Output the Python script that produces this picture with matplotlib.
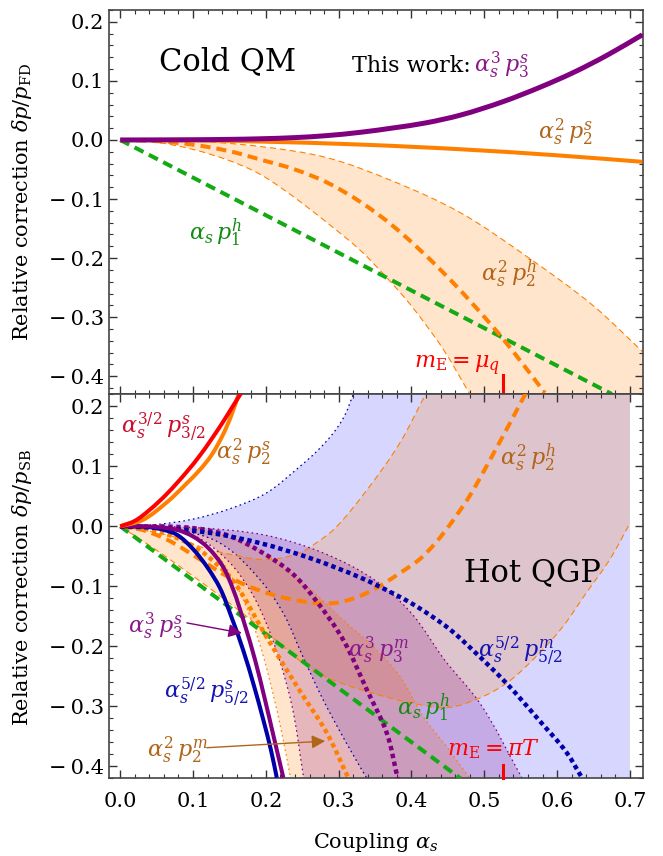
import numpy as np
import matplotlib
matplotlib.use("Agg")
import matplotlib.pyplot as plt
from matplotlib.ticker import MultipleLocator, FuncFormatter
from matplotlib.path import Path
from matplotlib.patches import PathPatch

plt.rcParams['font.family'] = ['DejaVu Serif']
plt.rcParams['mathtext.fontset'] = 'dejavuserif'

# ---------------- data: top panel (Cold QM) ----------------
top_p3s_a = [0, 0.1, 0.15, 0.192, 0.24, 0.284, 0.33, 0.375, 0.42, 0.467, 0.526, 0.576, 0.622, 0.668, 0.717]
top_p3s_y = [0, 0.0004, 0.001, 0.002, 0.004, 0.0074, 0.013, 0.0204, 0.029, 0.042, 0.065, 0.089, 0.114, 0.143, 0.178]

top_p2s_a = [0, 0.1, 0.192, 0.33, 0.467, 0.6, 0.717]
top_p2s_y = [0, -0.0007, -0.0027, -0.0078, -0.0157, -0.026, -0.037]

top_p1h_a = [0, 0.675]
top_p1h_y = [0, -0.43]

top_p2h_a = [0, 0.05, 0.1, 0.15, 0.192, 0.24, 0.284, 0.33, 0.375, 0.444, 0.513, 0.544, 0.583]
top_p2h_y = [0, -0.002, -0.008, -0.019, -0.033, -0.05, -0.072, -0.105, -0.146, -0.225, -0.318, -0.365, -0.428]

top_p2h_up_a = [0, 0.1, 0.192, 0.284, 0.375, 0.467, 0.558, 0.65, 0.717]
top_p2h_up_y = [0, -0.002, -0.011, -0.030, -0.070, -0.123, -0.197, -0.281, -0.358]

top_p2h_lo_a = [0, 0.05, 0.1, 0.15, 0.192, 0.24, 0.284, 0.329, 0.366, 0.398, 0.421, 0.444, 0.48]
top_p2h_lo_y = [0, -0.004, -0.016, -0.035, -0.058, -0.098, -0.140, -0.186, -0.233, -0.278, -0.315, -0.355, -0.43]

# ---------------- data: bottom panel (Hot QGP) ----------------
bot_p32s_a = [0, 0.02, 0.041, 0.064, 0.0915, 0.110, 0.138, 0.152, 0.166]
bot_p32s_y = [0, 0.009, 0.028, 0.054, 0.091, 0.119, 0.168, 0.195, 0.222]

bot_p2s_a = [0, 0.03, 0.064, 0.09, 0.110, 0.125, 0.14, 0.152, 0.162]
bot_p2s_y = [0, 0.010, 0.040, 0.070, 0.095, 0.118, 0.150, 0.183, 0.218]

bot_p52s_a = [0, 0.02, 0.04, 0.06, 0.0778, 0.10, 0.12, 0.137, 0.153, 0.169, 0.183, 0.197, 0.207, 0.215]
bot_p52s_y = [0, -0.0002, -0.0015, -0.006, -0.014, -0.038, -0.069, -0.103, -0.152, -0.207, -0.263, -0.325, -0.373, -0.419]

bot_p3s_a = [0, 0.04, 0.078, 0.10, 0.12, 0.14, 0.155, 0.17, 0.185, 0.198, 0.211, 0.224]
bot_p3s_y = [0, -0.0005, -0.006, -0.017, -0.035, -0.065, -0.105, -0.16, -0.222, -0.285, -0.352, -0.419]

bot_p1h_a = [0, 0.467]
bot_p1h_y = [0, -0.42]

bot_p2h_a = [0, 0.03, 0.064, 0.11, 0.1465, 0.201, 0.27, 0.30, 0.339, 0.384, 0.4157, 0.4737, 0.503, 0.557]
bot_p2h_y = [0, -0.006, -0.022, -0.0555, -0.083, -0.111, -0.128, -0.127, -0.111, -0.078, -0.05, 0.039, 0.10, 0.222]
bot_p2h_up_a = [0, 0.07, 0.12, 0.165, 0.192, 0.22, 0.247, 0.27, 0.293, 0.339, 0.384, 0.42]
bot_p2h_up_y = [0, -0.016, -0.038, -0.050, -0.0555, -0.053, -0.044, -0.027, -0.0055, 0.061, 0.139, 0.222]
bot_p2h_lo_a = [0, 0.05, 0.1, 0.15, 0.2, 0.265, 0.30, 0.352, 0.398, 0.45, 0.494, 0.531, 0.572, 0.608, 0.640, 0.672, 0.70]
bot_p2h_lo_y = [0, -0.04, -0.083, -0.128, -0.176, -0.240, -0.260, -0.280, -0.294, -0.302, -0.286, -0.261, -0.216, -0.167, -0.111, -0.056, 0.005]

bot_p52m_a = [0, 0.055, 0.1235, 0.192, 0.2607, 0.329, 0.357, 0.398, 0.4254, 0.453, 0.4847, 0.5307, 0.5765, 0.613, 0.634]
bot_p52m_y = [0, -0.003, -0.011, -0.028, -0.053, -0.085, -0.101, -0.127, -0.148, -0.172, -0.207, -0.262, -0.325, -0.377, -0.419]
bot_p52m_up_a = [0, 0.05, 0.1, 0.15, 0.2, 0.247, 0.27, 0.293, 0.308, 0.32]
bot_p52m_up_y = [0, 0.003, 0.012, 0.029, 0.055, 0.10, 0.125, 0.156, 0.184, 0.22]
bot_p52m_lo_a = [0, 0.08, 0.137, 0.192, 0.224, 0.25, 0.279, 0.31, 0.3386]
bot_p52m_lo_y = [0, -0.006, -0.028, -0.089, -0.145, -0.215, -0.29, -0.36, -0.42]

bot_p2m_a = [0, 0.05, 0.1007, 0.137, 0.1555, 0.2012, 0.247, 0.2836, 0.3134]
bot_p2m_y = [0, -0.008, -0.033, -0.068, -0.092, -0.185, -0.275, -0.344, -0.42]
bot_p2m_r_a = [0, 0.1, 0.146, 0.1967, 0.261, 0.306, 0.352, 0.384, 0.416, 0.45, 0.48]
bot_p2m_r_y = [0, -0.004, -0.017, -0.044, -0.105, -0.156, -0.206, -0.25, -0.317, -0.37, -0.42]
bot_p2m_l_a = [0, 0.08, 0.13, 0.16, 0.18, 0.195, 0.21, 0.222, 0.234]
bot_p2m_l_y = [0, -0.008, -0.045, -0.10, -0.155, -0.21, -0.28, -0.345, -0.42]

bot_p3m_a = [0, 0.1, 0.146, 0.192, 0.238, 0.270, 0.306, 0.3386, 0.366, 0.381]
bot_p3m_y = [0, -0.003, -0.0144, -0.0416, -0.0805, -0.1255, -0.1888, -0.2722, -0.3444, -0.42]
bot_p3m_r_a = [0, 0.1, 0.2, 0.28, 0.35, 0.40, 0.445, 0.494, 0.552]
bot_p3m_r_y = [0, -0.002, -0.015, -0.045, -0.09, -0.145, -0.222, -0.295, -0.42]
bot_p3m_l_a = [0, 0.1, 0.15, 0.18, 0.2, 0.218, 0.236, 0.252]
bot_p3m_l_y = [0, -0.015, -0.06, -0.11, -0.16, -0.22, -0.30, -0.42]

mE_alpha = 0.525
x_ticks = [0.0, 0.1, 0.2, 0.3, 0.4, 0.5, 0.6, 0.7]
y_ticks = [-0.4, -0.3, -0.2, -0.1, 0.0, 0.1, 0.2]

# ---------------- style ----------------
PURPLE = '#800080'
ORANGE = '#ff8000'
GREEN = '#14aa14'
BLUE = '#0000aa'
RED = '#ff0000'
T_ORANGE = '#b0651a'
T_GREEN = '#158a15'
T_BLUE = '#1414b4'
T_PURPLE = '#8a1a8a'
T_RED = '#c8102e'

XLIM = (-0.015, 0.7175)
TOP_YLIM = (-0.43, 0.22)
BOT_YLIM = (-0.42, 0.22)
A_END = 0.70

fig = plt.figure(figsize=(6.63, 8.56), dpi=100)
axL, axW = 109.3 / 663, (642.7 - 109.3) / 663
ax1 = fig.add_axes([axL, 1 - 394 / 856, axW, 384 / 856])
ax2 = fig.add_axes([axL, 1 - 778.3 / 856, axW, 384 / 856])


def fmt(v, pos):
    s = f"{v:.1f}"
    if s == "-0.0":
        s = "0.0"
    return s.replace('-', '\u2212\u2009')


for ax, yl in ((ax1, TOP_YLIM), (ax2, BOT_YLIM)):
    ax.set_xlim(*XLIM)
    ax.set_ylim(*yl)
    ax.set_xticks(x_ticks)
    ax.set_yticks(y_ticks)
    ax.xaxis.set_minor_locator(MultipleLocator(0.02))
    ax.yaxis.set_minor_locator(MultipleLocator(0.02))
    ax.tick_params(which='both', direction='in', top=True, right=True, color='#333333')
    ax.tick_params(which='major', length=5.5, width=1.0, labelsize=15)
    ax.tick_params(which='minor', length=3, width=0.8)
    ax.tick_params(axis='y', pad=4)
    ax.tick_params(axis='x', pad=10)
    ax.yaxis.set_major_formatter(FuncFormatter(fmt))
    ax.xaxis.set_major_formatter(FuncFormatter(fmt))
    for sp in ax.spines.values():
        sp.set_color('#444444')
        sp.set_linewidth(1.2)
ax1.tick_params(axis='x', labelbottom=False)

THICK = 2.9
DASH = (2.5, 1.5)
DOT = (1.0, 0.8)
THIN_DASH = (5.5, 3.5)
THIN_DOT = (1.3, 2.6)
ASPECT = 0.81  # y-data to x-data pixel ratio, for tangent estimation


def bezier(xs, ys):
    """Smooth cubic path through the read points (vertices, codes)."""
    P = np.column_stack([xs, ys]).astype(float)
    n = len(P)
    if n < 3:
        return [tuple(p) for p in P], [Path.MOVETO] + [Path.LINETO] * (n - 1)
    S = np.array([1.0, ASPECT])
    Q = P * S
    T = np.zeros_like(Q)
    for i in range(n):
        if i == 0:
            d = Q[1] - Q[0]
        elif i == n - 1:
            d = Q[-1] - Q[-2]
        else:
            d = (Q[i + 1] - Q[i]) / np.linalg.norm(Q[i + 1] - Q[i]) + \
                (Q[i] - Q[i - 1]) / np.linalg.norm(Q[i] - Q[i - 1])
        T[i] = d / np.linalg.norm(d)
    verts = [tuple(P[0])]
    codes = [Path.MOVETO]
    for i in range(n - 1):
        L = np.linalg.norm(Q[i + 1] - Q[i])
        c1 = (Q[i] + T[i] * L / 3) / S
        c2 = (Q[i + 1] - T[i + 1] * L / 3) / S
        verts += [tuple(c1), tuple(c2), tuple(P[i + 1])]
        codes += [Path.CURVE4] * 3
    return verts, codes


def curve(ax, xs, ys, color, lw, dashes=None, z=3):
    v, c = bezier(xs, ys)
    ls = '-' if dashes is None else (0, dashes)
    ax.add_patch(PathPatch(Path(v, c), fill=False, edgecolor=color, lw=lw,
                           linestyle=ls, capstyle='butt', joinstyle='round', zorder=z))


def band(ax, ux, uy, lx, ly, corners, color, alpha, z=1):
    v1, c1 = bezier(ux, uy)
    verts, codes = list(v1), list(c1)
    for p in corners:
        verts.append(p)
        codes.append(Path.LINETO)
    v2, c2 = bezier(lx[::-1], ly[::-1])
    c2 = [Path.LINETO] + c2[1:]
    verts += v2 + [v1[0]]
    codes += c2 + [Path.CLOSEPOLY]
    ax.add_patch(PathPatch(Path(verts, codes), facecolor=color, alpha=alpha, lw=0, zorder=z))


# ---------------- top panel ----------------
ylo, yhi = TOP_YLIM
band(ax1, top_p2h_up_a, top_p2h_up_y, top_p2h_lo_a, top_p2h_lo_y,
     [(top_p2h_up_a[-1], ylo - 0.05), (top_p2h_lo_a[-1], ylo - 0.05)], ORANGE, 0.2)
curve(ax1, top_p2h_up_a, top_p2h_up_y, ORANGE, 0.8, THIN_DASH, z=2)
curve(ax1, top_p2h_lo_a, top_p2h_lo_y, ORANGE, 0.8, THIN_DASH, z=2)
ax1.plot(top_p1h_a, top_p1h_y, color=GREEN, lw=THICK, dashes=DASH, zorder=3)
curve(ax1, top_p2h_a, top_p2h_y, ORANGE, THICK, DASH)
curve(ax1, top_p2s_a, top_p2s_y, ORANGE, THICK, z=4)
curve(ax1, top_p3s_a, top_p3s_y, PURPLE, 3.6, z=5)
ax1.plot([mE_alpha, mE_alpha], [ylo, -0.398], color=RED, lw=2.2, zorder=6, clip_on=False)

ax1.text(0.148, 0.133, 'Cold QM', fontsize=22, ha='center', va='center')
ax1.text(0.4817, 0.1146, 'This work:', fontsize=16, ha='right', va='baseline')
ax1.text(0.486, 0.1146, r'$\alpha_s^3\, p_3^s$', fontsize=16, ha='left', va='baseline', color=T_PURPLE)
ax1.text(0.6115, 0.012, r'$\alpha_s^2\, p_2^s$', fontsize=16, ha='center', va='center', color=T_ORANGE)
ax1.text(0.131, -0.157, r'$\alpha_s\, p_1^h$', fontsize=16, ha='center', va='center', color=T_GREEN)
ax1.text(0.534, -0.226, r'$\alpha_s^2\, p_2^h$', fontsize=16, ha='center', va='center', color=T_ORANGE)
ax1.text(0.521, -0.382, r'$m_{\rm E} = \mu_q$', fontsize=16, ha='right', va='center', color=RED)

# ---------------- bottom panel ----------------
ylo, yhi = BOT_YLIM
band(ax2, bot_p52m_up_a, bot_p52m_up_y, bot_p52m_lo_a, bot_p52m_lo_y,
     [(bot_p52m_up_a[-1] + 0.01, yhi + 0.05), (A_END, yhi + 0.05), (A_END, ylo - 0.05),
      (bot_p52m_lo_a[-1] + 0.01, ylo - 0.05)], '#0000ff', 0.16)
band(ax2, bot_p2h_up_a, bot_p2h_up_y, bot_p2h_lo_a, bot_p2h_lo_y,
     [(bot_p2h_up_a[-1] + 0.01, yhi + 0.05), (A_END, yhi + 0.05)], ORANGE, 0.2)
band(ax2, bot_p2m_r_a, bot_p2m_r_y, bot_p2m_l_a, bot_p2m_l_y, [], ORANGE, 0.2)
band(ax2, bot_p3m_r_a, bot_p3m_r_y, bot_p3m_l_a, bot_p3m_l_y, [], PURPLE, 0.2)

for xs, ys in ((bot_p52m_up_a, bot_p52m_up_y), (bot_p52m_lo_a, bot_p52m_lo_y)):
    curve(ax2, xs, ys, BLUE, 0.9, THIN_DOT, z=2)
for xs, ys in ((bot_p2h_up_a, bot_p2h_up_y), (bot_p2h_lo_a, bot_p2h_lo_y)):
    curve(ax2, xs, ys, ORANGE, 0.8, THIN_DASH, z=2)
for xs, ys in ((bot_p2m_r_a, bot_p2m_r_y), (bot_p2m_l_a, bot_p2m_l_y)):
    curve(ax2, xs, ys, ORANGE, 0.9, THIN_DOT, z=2)
for xs, ys in ((bot_p3m_r_a, bot_p3m_r_y), (bot_p3m_l_a, bot_p3m_l_y)):
    curve(ax2, xs, ys, PURPLE, 0.9, THIN_DOT, z=2)

ax2.plot(bot_p1h_a, bot_p1h_y, color=GREEN, lw=THICK, dashes=DASH, zorder=3)
curve(ax2, bot_p2h_a, bot_p2h_y, ORANGE, THICK, DASH)
curve(ax2, bot_p2m_a, bot_p2m_y, ORANGE, 3.2, DOT)
curve(ax2, bot_p3m_a, bot_p3m_y, PURPLE, 3.2, DOT)
curve(ax2, bot_p52m_a, bot_p52m_y, BLUE, 3.2, DOT)
curve(ax2, bot_p52s_a, bot_p52s_y, BLUE, THICK, z=4)
curve(ax2, bot_p3s_a, bot_p3s_y, PURPLE, THICK, z=4)
curve(ax2, bot_p2s_a, bot_p2s_y, ORANGE, THICK, z=4)
curve(ax2, bot_p32s_a, bot_p32s_y, RED, THICK, z=4)
ax2.plot([mE_alpha, mE_alpha], [ylo, -0.3975], color=RED, lw=2.2, zorder=6, clip_on=False)

ax2.text(0.059, 0.1645, r'$\alpha_s^{3/2}\, p_{3/2}^s$', fontsize=16, ha='center', va='center', color=T_RED)
ax2.text(0.169, 0.1228, r'$\alpha_s^2\, p_2^s$', fontsize=16, ha='center', va='center', color=T_ORANGE)
ax2.text(0.560, 0.1145, r'$\alpha_s^2\, p_2^h$', fontsize=16, ha='center', va='center', color=T_ORANGE)
ax2.text(0.566, -0.077, 'Hot QGP', fontsize=22, ha='center', va='center')
ax2.text(0.048, -0.167, r'$\alpha_s^3\, p_3^s$', fontsize=16, ha='center', va='center', color=T_PURPLE)
ax2.text(0.354, -0.206, r'$\alpha_s^3\, p_3^m$', fontsize=16, ha='center', va='center', color=T_PURPLE)
ax2.text(0.550, -0.208, r'$\alpha_s^{5/2}\, p_{5/2}^m$', fontsize=16, ha='center', va='center', color=T_BLUE)
ax2.text(0.119, -0.277, r'$\alpha_s^{5/2}\, p_{5/2}^s$', fontsize=16, ha='center', va='center', color=T_BLUE)
ax2.text(0.417, -0.302, r'$\alpha_s\, p_1^h$', fontsize=16, ha='center', va='center', color=T_GREEN)
ax2.text(0.078, -0.374, r'$\alpha_s^2\, p_2^m$', fontsize=16, ha='center', va='center', color=T_ORANGE)
ax2.text(0.512, -0.372, r'$m_{\rm E} = \pi T$', fontsize=16, ha='center', va='center', color=RED)

ax2.annotate('', xy=(0.167, -0.178), xytext=(0.0915, -0.161),
             arrowprops=dict(arrowstyle='-|>', color=PURPLE, lw=1.0, mutation_scale=20,
                             shrinkA=0, shrinkB=0), zorder=7)
ax2.annotate('', xy=(0.2814, -0.358), xytext=(0.119, -0.369),
             arrowprops=dict(arrowstyle='-|>', color=T_ORANGE, lw=1.0, mutation_scale=20,
                             shrinkA=0, shrinkB=0), zorder=7)

fig.text(22 / 663, 1 - 202 / 856, r'Relative correction $\delta p/p_{\rm FD}$', rotation=90,
         fontsize=15, ha='center', va='center')
fig.text(22 / 663, 1 - 587 / 856, r'Relative correction $\delta p/p_{\rm SB}$', rotation=90,
         fontsize=15, ha='center', va='center')
fig.text(376 / 663, 1 - 843 / 856, r'Coupling $\alpha_s$', fontsize=15, ha='center', va='center')

fig.savefig('out.png', dpi=100)
